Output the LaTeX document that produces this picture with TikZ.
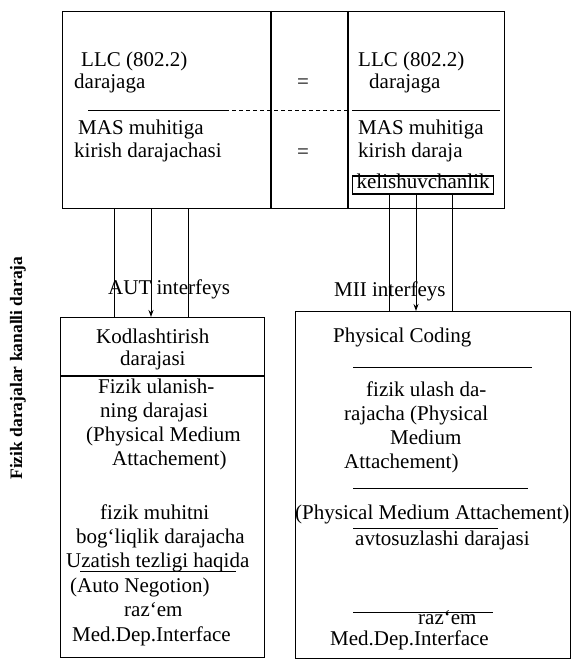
\documentclass[tikz,border=0pt]{standalone}
\usepackage{fontspec}
\setmainfont{Liberation Serif}
\usetikzlibrary{arrows.meta}
\begin{document}
\begin{tikzpicture}[x=1pt,y=-1pt,
  lbl/.style={inner sep=0pt, anchor=west, text height=13pt, text depth=4pt, font=\fontsize{21}{23}\selectfont},
  tight/.style={text height=11pt, text depth=3pt},
  ctr/.style={lbl, anchor=center},
  frame/.style={draw, line width=1.4pt, inner sep=0pt, anchor=north west},
  rule/.style={line width=0.9pt},
  conn/.style={line width=1pt},
  tip/.style={-{Stealth[length=7pt,width=5pt]}}
]
\useasboundingbox (0,0) rectangle (575,668);
% boxes
\node[frame, minimum width=442pt, minimum height=197pt] (top) at (62,11) {};
\node[frame, minimum width=204pt, minimum height=340pt] (lb) at (60,317) {};
\node[frame, minimum width=275pt, minimum height=347pt] (rb) at (295,311) {};
% dividers of top box
\draw[line width=1.2pt] (271,11) -- (271,208);
\draw[line width=1.2pt] (348,11) -- (348,208);
\draw[rule] (88,110) -- (225,110);
\draw[rule, dashed, dash pattern=on 4pt off 3pt] (225,110) -- (348,110);
\draw[rule] (352,110) -- (500,110);
% top box text
\node[lbl] (t1) at (81,62) {LLC (802.2)};
\node[lbl] (t2) at (74,84) {darajaga};
\node[ctr] (eq1) at (303,84) {=};
\node[lbl] (t3) at (358,62) {LLC (802.2)};
\node[lbl] (t4) at (369,84) {darajaga};
\node[lbl] (t5) at (78,130) {MAS muhitiga};
\node[lbl] (t6) at (74,153) {kirish darajachasi};
\node[ctr] (eq2) at (303,154) {=};
\node[lbl] (t7) at (358,130) {MAS muhitiga};
\node[lbl] (t8) at (358,153) {kirish daraja};
\node[lbl, tight, draw, line width=1.2pt, inner xsep=4pt, inner ysep=2pt] (kel) at (352,185) {kelishuvchanlik};
% connectors
\coordinate (xa) at (114,0);
\coordinate (xb) at (151,0);
\coordinate (xc) at (188,0);
\coordinate (xd) at (389,0);
\coordinate (xe) at (416,0);
\coordinate (xf) at (452,0);
\draw[conn] (lb.north -| xa) -- (top.south -| xa);
\draw[conn, tip] (top.south -| xb) -- (lb.north -| xb);
\draw[conn] (top.south -| xc) -- (lb.north -| xc);
\draw[conn] (kel.south -| xd) -- (rb.north -| xd);
\draw[conn, tip] (kel.south -| xe) -- (rb.north -| xe);
\draw[conn] (kel.south -| xf) -- (rb.north -| xf);
\node[lbl] (aut) at (108,290) {AUT interfeys};
\node[lbl] (mii) at (334,292) {MII interfeys};
% left bottom box
\draw[line width=1.2pt] (lb.north west |- 0,376) -- (lb.north east |- 0,376);
\node[lbl] (l1) at (96,339) {Kodlashtirish};
\node[lbl] (l2) at (120,361) {darajasi};
\node[lbl] (l3) at (98,389) {Fizik ulanish-};
\node[lbl] (l4) at (100,413) {ning darajasi};
\node[lbl] (l5) at (86,437) {(Physical Medium};
\node[lbl] (l6) at (112,461) {Attachement)};
\node[lbl] (l7) at (100,515) {fizik muhitni};
\node[lbl] (l8) at (76,539) {bog`liqlik darajacha};
\node[lbl] (l9) at (66,563) {Uzatish tezligi haqida};
\draw[rule] (80,571) -- (236,571);
\node[lbl] (l10) at (70,588) {(Auto Negotion)};
\node[lbl] (l11) at (124,612) {raz`em};
\node[lbl] (l12) at (72,637) {Med.Dep.Interface};
% right bottom box
\node[lbl] (r1) at (333,338) {Physical Coding};
\draw[rule] (353,367) -- (532,367);
\node[lbl] (r2) at (366,392) {fizik ulash da-};
\node[lbl] (r3) at (344,416) {rajacha (Physical};
\node[lbl] (r4) at (390,440) {Medium};
\node[lbl] (r5) at (344,464) {Attachement)};
\draw[rule] (353,488) -- (528,488);
\node[lbl] (r6) at (295,515) {(Physical Medium Attachement)};
\draw[rule] (353,528) -- (498,528);
\node[lbl] (r7) at (355,541) {avtosuzlashi darajasi};
\draw[rule] (353,612) -- (493,612);
\node[lbl, tight] (r8) at (418,620) {raz`em};
\node[lbl, tight] (r9) at (330,641) {Med.Dep.Interface};
% side label
\node[inner sep=0pt, rotate=90, font=\fontsize{17.5}{20}\selectfont\bfseries] (side) at (18,368) {Fizik darajalar kanalli daraja};
\end{tikzpicture}
\end{document}
